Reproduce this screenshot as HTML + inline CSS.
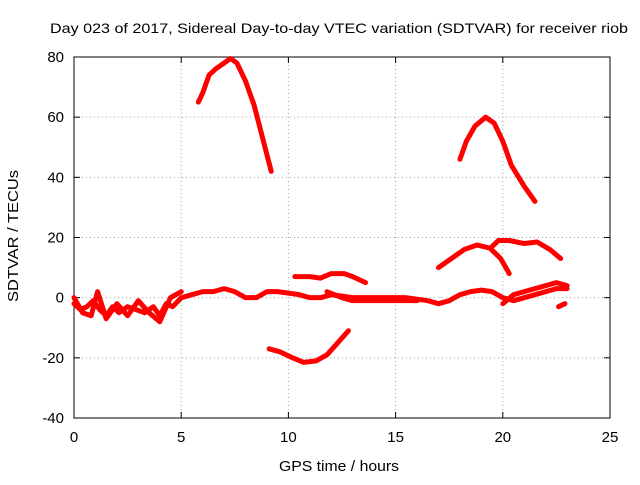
<!DOCTYPE html>
<html><head><meta charset="utf-8"><style>
body{margin:0;background:#fff}
svg{font-family:"Liberation Sans",sans-serif;font-size:15px}
</style></head><body>
<svg width="640" height="480" viewBox="0 0 640 480">
<g id="grid"></g>
<g id="axes"></g>
<g id="series"></g>
<text x="339" y="33" text-anchor="middle" font-size="14" textLength="578" lengthAdjust="spacingAndGlyphs">Day 023 of 2017, Sidereal Day-to-day VTEC variation (SDTVAR) for receiver riob</text>
<text x="339" y="471" text-anchor="middle" textLength="120" lengthAdjust="spacingAndGlyphs">GPS time / hours</text>
<text x="18" y="236" text-anchor="middle" textLength="132" lengthAdjust="spacingAndGlyphs" transform="rotate(-90 18 236)">SDTVAR / TECUs</text>
</svg>
<script>
const xTicks=[0,5,10,15,20,25];
const yTicks=[-40,-20,0,20,40,60,80];
const trA_x=[5.8,6.0,6.3,6.6,7.0,7.3,7.6,8.0,8.4,8.8,9.2];
const trA_y=[65,68,74,76,78,79.5,78,72,64,53,42];
const trB_x=[18,18.3,18.7,19.2,19.6,20,20.4,21,21.5];
const trB_y=[46,52,57,60,58,52,44,37,32];
const trC_x=[17,17.6,18.2,18.8,19.4,19.9,20.3];
const trC_y=[10,13,16,17.5,16.5,13,8];
const trD_x=[19.5,19.8,20.3,21,21.6,22.2,22.7];
const trD_y=[17,19,19,18,18.5,16,13];
const trE_x=[10.3,11,11.5,12,12.6,13,13.6];
const trE_y=[7,7,6.5,8,8,7,5];
const trF_x=[9.1,9.6,10.2,10.7,11.3,11.8,12.3,12.8];
const trF_y=[-17,-18,-20,-21.5,-21,-19,-15,-11];
const trG_x=[0,0.3,0.6,0.9,1.2,1.5,1.8,2.1,2.5,2.9,3.3,3.7,4.0,4.3,4.6,5,5.5,6,6.5,7,7.5,8,8.5,9,9.5,10,10.5,11,11.5,12,12.5,13,13.5,14,14.5,15,15.5,16,16.5,17,17.5,18,18.5,19,19.5,20,20.5,21,21.5,22,22.5,23];
const trG_y=[-2,-4,-3,-1,-4,-6,-3,-5,-3,-4,-5,-3,-6,-2,-3,0,1,2,2,3,2,0,0,2,2,1.5,1,0,0,1,0.5,0,0,0,0,0,0,-0.5,-1,-2,-1,1,2,2.5,2,0,-1,0,1,2,3,3];
const trH_x=[0,0.4,0.8,1.1,1.5,2,2.5,3,3.5,4,4.5,5];
const trH_y=[0,-5,-6,2,-7,-2,-6,-1,-5,-8,0,2];
const trI_x=[11.8,12.5,13,14,15,16];
const trI_y=[2,0,-1,-1,-1,-1];
const trJ_x=[20,20.5,21,21.5,22,22.5,23];
const trJ_y=[-2,1,2,3,4,5,4];
const trK_x=[22.6,22.9];
const trK_y=[-3,-2];
const traces=[[trA_x,trA_y],[trB_x,trB_y],[trC_x,trC_y],[trD_x,trD_y],[trE_x,trE_y],[trF_x,trF_y],[trG_x,trG_y],[trH_x,trH_y],[trI_x,trI_y],[trJ_x,trJ_y],[trK_x,trK_y]];
const L=74,R=610,T=57,B=418;
const sx=v=>L+(v-0)/(25-0)*(R-L);
const sy=v=>B-(v+40)/(120)*(B-T);
const NS="http://www.w3.org/2000/svg";
function mk(tag,at,parent){const e=document.createElementNS(NS,tag);for(const k in at)e.setAttribute(k,at[k]);parent.appendChild(e);return e;}
const grid=document.getElementById('grid'),axes=document.getElementById('axes'),ser=document.getElementById('series');
xTicks.forEach(t=>{const x=sx(t);
 if(t>0&&t<25){const g=mk('line',{x1:x,x2:x,y1:T,y2:B,stroke:'#a0a0a0','stroke-dasharray':'1,3'},grid);
 }
 mk('line',{x1:x,x2:x,y1:B,y2:B-6,stroke:'#000'},axes);mk('line',{x1:x,x2:x,y1:T,y2:T+6,stroke:'#000'},axes);
 const tx=mk('text',{x:x,y:B+24,'text-anchor':'middle'},axes);tx.textContent=t;
 });
yTicks.forEach(t=>{const y=sy(t);
 if(t>-40&&t<80){const g=mk('line',{x1:L,x2:R,y1:y,y2:y,stroke:'#a0a0a0','stroke-dasharray':'1,3'},grid);
 }
 mk('line',{x1:L,x2:L+6,y1:y,y2:y,stroke:'#000'},axes);mk('line',{x1:R,x2:R-6,y1:y,y2:y,stroke:'#000'},axes);
 const tx=mk('text',{x:L-10,y:y+5,'text-anchor':'end'},axes);tx.textContent=t;
 });
mk('rect',{x:L,y:T,width:R-L,height:B-T,fill:'none',stroke:'#000'},axes);
traces.forEach(([xs,ys])=>{
 const p=mk('polyline',{points:xs.map((x,i)=>sx(x)+','+sy(ys[i])).join(' '),fill:'none',stroke:'#f00','stroke-width':5,'stroke-linejoin':'round','stroke-linecap':'round'},ser);
 
 
});
</script>
</body></html>
